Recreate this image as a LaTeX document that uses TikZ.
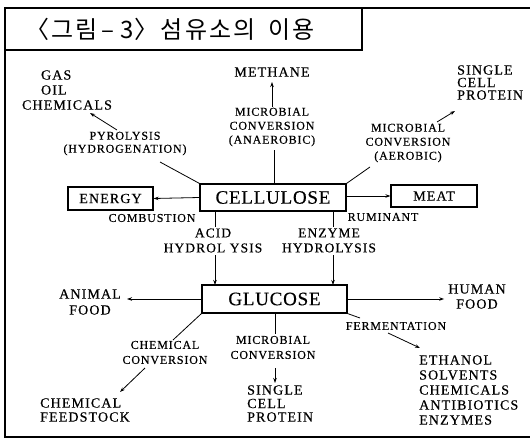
\documentclass[tikz,border=0pt]{standalone}
\usepackage{fontspec}
\setmainfont{Liberation Serif}
\newfontfamily\cjk[LetterSpace=9]{Noto Sans CJK KR}
\newfontfamily\lsA[LetterSpace=4,FakeBold=0.4]{Liberation Serif}
\newfontfamily\lsB[LetterSpace=8,FakeBold=0.45]{Liberation Serif}
\newfontfamily\lsC[LetterSpace=7,FakeBold=0.45]{Liberation Serif}
\usetikzlibrary{arrows.meta}
\begin{document}
\begin{tikzpicture}[x=1pt,y=-1pt,
  big/.style={font=\lsA\fontsize{19}{20}\selectfont},
  mid/.style={font=\lsB\fontsize{14}{15}\selectfont, align=center, inner sep=0pt},
  sml/.style={font=\lsC\fontsize{12}{14}\selectfont, align=center, inner sep=0pt},
  boxA/.style={draw, line width=1.1pt, inner sep=0pt},
  conn/.style={line width=0.8pt},
  arr/.style={line width=0.8pt, -{Stealth[length=5pt,width=3.5pt]}}]
\useasboundingbox (0,0) rectangle (530,441);
% frame
\draw[line width=1.3pt] (530,8) -- (5,8) -- (5,437) -- (530,437);
\draw[line width=1.3pt] (5,8) rectangle (362,50);
\node[anchor=west, font=\cjk\fontsize{24}{26}\selectfont, inner sep=0pt] (title) at (25,29) {〈그림\hspace{4pt}–\hspace{6pt}3\hspace{1pt}〉\hspace{2pt}섬유소의\hspace{13pt}이용};
% boxes
\node[boxA, big, minimum width=146, minimum height=27] (cell) at (273,197.5) {CELLULOSE};
\node[boxA, big, minimum width=145, minimum height=28] (glu) at (274.5,299) {GLUCOSE};
\node[boxA, mid, minimum width=85, minimum height=23] (energy) at (110.5,198.5) {ENERGY};
\node[boxA, mid, minimum width=86, minimum height=22] (meat) at (434,196) {MEAT};
% products
\node[mid, align=left] (gas) at (67,90) {\hspace*{19pt}GAS\\\hspace*{19pt}OIL\\CHEMICALS};
\node[mid] (methane) at (272,72) {METHANE};
\node[mid, align=left, anchor=west, font=\lsB\fontsize{14}{12.5}\selectfont] (scp1) at (457,82.5) {SINGLE\\CELL\\PROTEIN};
\node[mid, font=\lsB\fontsize{14}{16}\selectfont] (animal) at (90,302) {ANIMAL\\FOOD};
\node[mid] (human) at (477,296.5) {HUMAN\\FOOD};
\node[mid, align=left, anchor=west, font=\lsB\fontsize{14}{14}\selectfont] (feed) at (40,410) {CHEMICAL\\FEEDSTOCK};
\node[mid, align=left, anchor=west, font=\lsB\fontsize{14}{13.5}\selectfont] (scp2) at (247,403.5) {SINGLE\\CELL\\PROTEIN};
\node[mid, align=left, anchor=west] (eth) at (419,390) {ETHANOL\\SOLVENTS\\CHEMICALS\\ANTIBIOTICS\\ENZYMES};
% process labels
\node[sml, font=\lsC\fontsize{12}{13}\selectfont] (pyro) at (125,143.5) {PYROLYSIS\\(HYDROGENATION)};
\node[sml] (anaer) at (272,127) {MICROBIAL\\CONVERSION\\(ANAEROBIC)};
\node[sml, font=\lsC\fontsize{12}{14}\selectfont] (aer) at (408,143) {MICROBIAL\\CONVERSION\\(AEROBIC)};
\node[sml] (comb) at (152,218) {COMBUSTION};
\node[sml] (rum) at (383,217) {RUMINANT};
\node[mid, font=\lsB\fontsize{13.5}{15}\selectfont] (acid) at (213,240.5) {ACID\\HYDROL YSIS};
\node[mid, font=\lsB\fontsize{13.5}{15}\selectfont] (enz) at (329,240.5) {ENZYME\\HYDROLYSIS};
\node[sml, font=\lsC\fontsize{12}{15}\selectfont] (chemc) at (165,352.5) {CHEMICAL\\CONVERSION};
\node[sml, font=\lsC\fontsize{12}{15}\selectfont] (micc) at (273,347.5) {MICROBIAL\\CONVERSION};
\node[sml] (ferm) at (396,326) {FERMENTATION};
% connector end points
\coordinate (p1) at (160,162);
\coordinate (p2a) at (117,130); \coordinate (p2b) at (90,113);
\coordinate (m1) at (274,150); \coordinate (m2a) at (272,107); \coordinate (m2b) at (272,82);
\coordinate (a1) at (370,167); \coordinate (a2a) at (437,122); \coordinate (a2b) at (455,111);
\coordinate (c1) at (215,211); \coordinate (c2) at (215,227); \coordinate (c3) at (215,255); \coordinate (c4) at (215,285);
\coordinate (e1) at (333,211); \coordinate (e2) at (333,227); \coordinate (e3) at (333,255); \coordinate (e4) at (333,285);
\coordinate (g1) at (173,340); \coordinate (g2a) at (145,368); \coordinate (g2b) at (120,392);
\coordinate (h1) at (275,313); \coordinate (h2) at (275,334); \coordinate (h3a) at (275,368); \coordinate (h3b) at (275,383);
\coordinate (f1) at (360,318); \coordinate (f2a) at (388,333); \coordinate (f2b) at (420,348);
% connectors
\draw[conn] (cell.north west) -- (p1);
\draw[arr] (p2a) -- (p2b);
\draw[conn] (cell.north -| m1) -- (m1);
\draw[arr] (m2a) -- (m2b);
\draw[conn] (cell.north east) -- (a1);
\draw[arr] (a2a) -- (a2b);
\draw[arr] (cell.west) -- (energy.east);
\draw[arr] (cell.east |- meat.west) -- (meat.west);
\draw[conn] (c1) -- (c2);
\draw[arr] (c3) -- (c4);
\draw[conn] (e1) -- (e2);
\draw[arr] (e3) -- (e4);
\draw[arr] (glu.west) -- ([xshift=6pt]animal.east |- glu.west);
\draw[arr] (glu.east) -- ([xshift=-4pt]human.west |- glu.east);
\draw[conn] (glu.south west) -- (g1);
\draw[arr] (g2a) -- (g2b);
\draw[conn] (h1) -- (h2);
\draw[arr] (h3a) -- (h3b);
\draw[conn] (glu.south east) -- (f1);
\draw[arr] (f2a) -- (f2b);
\end{tikzpicture}
\end{document}
